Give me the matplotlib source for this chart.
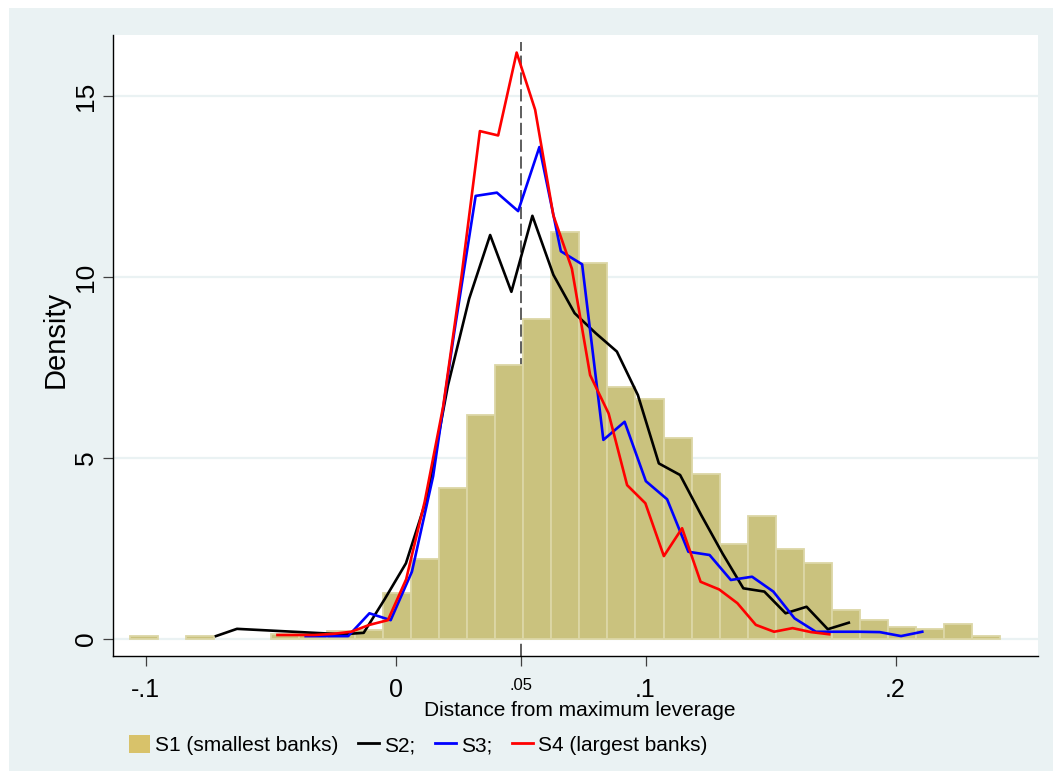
import matplotlib
matplotlib.use("Agg")
import matplotlib.pyplot as plt
from matplotlib.patches import Rectangle, Patch
from matplotlib.lines import Line2D

plt.rcParams['font.family'] = ['Liberation Sans', 'DejaVu Sans']

# S1 histogram: bin edges and density per bin
s1_edges = [-0.10624, -0.09501, -0.08378, -0.07254, -0.06131, -0.05008, -0.03885,
            -0.02762, -0.01638, -0.00515, 0.00608, 0.01731, 0.02854, 0.03978,
            0.05101, 0.06224, 0.07347, 0.08470, 0.09594, 0.10717, 0.11840,
            0.12963, 0.14086, 0.15210, 0.16333, 0.17456, 0.18579, 0.19702,
            0.20826, 0.21949, 0.23072, 0.24195]
s1_density = [0.08, 0, 0.08, 0, 0, 0.14, 0.14, 0.22, 0.26, 1.26, 2.21, 4.18, 6.2,
              7.57, 8.83, 11.23, 10.40, 6.95, 6.63, 5.54, 4.56, 2.62, 3.40, 2.48,
              2.09, 0.80, 0.52, 0.33, 0.28, 0.41, 0.08]

# S2 (black)
s2_x = [-0.0719, -0.0635, -0.0550, -0.0466, -0.0381, -0.0297, -0.0213, -0.0128,
        -0.0044, 0.0041, 0.0125, 0.0209, 0.0294, 0.0378, 0.0463, 0.0547, 0.0631,
        0.0716, 0.0800, 0.0885, 0.0969, 0.1053, 0.1138, 0.1222, 0.1307, 0.1391,
        0.1475, 0.1560, 0.1644, 0.1729, 0.1813]
s2_y = [0.08, 0.28, 0.25, 0.22, 0.19, 0.16, 0.13, 0.17, 1.1, 2.09, 3.9, 7.0, 9.4,
        11.16, 9.59, 11.69, 10.06, 9.0, 8.45, 7.94, 6.74, 4.85, 4.53, 3.43, 2.37,
        1.40, 1.31, 0.71, 0.89, 0.27, 0.45]

# S3 (blue)
s3_x = [-0.0360, -0.0275, -0.0190, -0.0105, -0.0020, 0.0065, 0.0150, 0.0235,
        0.0320, 0.0405, 0.0490, 0.0575, 0.0661, 0.0746, 0.0831, 0.0916, 0.1001,
        0.1086, 0.1171, 0.1256, 0.1341, 0.1426, 0.1511, 0.1596, 0.1681, 0.1766,
        0.1852, 0.1937, 0.2022, 0.2107]
s3_y = [0.08, 0.08, 0.08, 0.71, 0.52, 1.86, 4.5, 8.5, 12.24, 12.33, 11.82, 13.59,
        10.71, 10.35, 5.50, 6.0, 4.36, 3.86, 2.41, 2.32, 1.63, 1.72, 1.31, 0.57,
        0.2, 0.2, 0.2, 0.19, 0.08, 0.2]

# S4 (red)
s4_x = [-0.0473, -0.0399, -0.0325, -0.0252, -0.0178, -0.0105, -0.0031, 0.0042,
        0.0116, 0.0190, 0.0263, 0.0337, 0.0410, 0.0484, 0.0558, 0.0631, 0.0705,
        0.0778, 0.0852, 0.0926, 0.0999, 0.1073, 0.1146, 0.1220, 0.1294, 0.1367,
        0.1441, 0.1514, 0.1588, 0.1662, 0.1735]
s4_y = [0.11, 0.11, 0.11, 0.14, 0.2, 0.39, 0.52, 1.65, 3.79, 6.42, 10.0, 14.03,
        13.91, 16.2, 14.62, 11.7, 10.23, 7.29, 6.23, 4.25, 3.75, 2.29, 3.06, 1.58,
        1.37, 0.99, 0.39, 0.2, 0.3, 0.19, 0.13]

x_ticks = [-0.1, 0, 0.05, 0.1, 0.2]
x_tick_labels = ['-.1', '0', '.05', '.1', '.2']
y_ticks = [0, 5, 10, 15]
max_leverage = 0.05

bg = '#eaf2f3'
bar_fill = '#cac27e'
bar_edge = '#dcd7a6'

fig = plt.figure(figsize=(10.53, 7.71), dpi=100, facecolor='white')
fig.patches.append(Rectangle((9 / 1053, 0), 1, 763 / 771, transform=fig.transFigure,
                             facecolor=bg, edgecolor='none', zorder=-10))

ax = fig.add_axes([113 / 1053, 1 - 656 / 771, (1038 - 113) / 1053, (656 - 35) / 771])
ax.set_facecolor('white')
ax.set_xlim(-0.1131, 0.2570)
ax.set_ylim(-0.47, 16.685)

for y in y_ticks:
    ax.axhline(y, color=bg, lw=1.6, zorder=0)

# dashed reference line at the maximum leverage point
ax.axvline(max_leverage, ymin=0, ymax=(16.5 + 0.47) / (16.685 + 0.47),
           color='#333333', lw=1.1, linestyle=(0, (8, 3)), zorder=1)

lefts = [e for e, h in zip(s1_edges[:-1], s1_density) if h > 0]
widths = [s1_edges[i + 1] - s1_edges[i] for i, h in enumerate(s1_density) if h > 0]
heights = [h for h in s1_density if h > 0]
ax.bar(lefts, heights, width=widths, align='edge', color=bar_fill,
       edgecolor=bar_edge, linewidth=1.3, zorder=2)

ax.plot(s2_x, s2_y, color='black', lw=1.9, zorder=3)
ax.plot(s3_x, s3_y, color='#0000ff', lw=1.9, zorder=4)
ax.plot(s4_x, s4_y, color='#ff0000', lw=1.9, zorder=5)

for side in ['top', 'right']:
    ax.spines[side].set_visible(False)
for side in ['left', 'bottom']:
    ax.spines[side].set_color('black')
    ax.spines[side].set_linewidth(1.0)

ax.set_xticks(x_ticks)
ax.set_xticklabels(x_tick_labels)
ax.set_yticks(y_ticks)
ax.tick_params(axis='x', length=7.5, width=0.9, color='#404040', pad=8, labelsize=18)
ax.tick_params(axis='y', length=7.5, width=0.9, color='#404040', pad=3, labelsize=19,
               labelrotation=90)
for lab in ax.get_yticklabels():
    lab.set_va('center')
ax.get_xticklabels()[2].set_fontsize(12)

fig.text(580 / 1053, 1 - 711 / 771, 'Distance from maximum leverage', ha='center',
         va='center', fontsize=15)
fig.text(56 / 1053, 1 - 339 / 771, 'Density', ha='center', va='center', fontsize=21,
         rotation=90)

handles = [Patch(facecolor='#d8c26a', edgecolor='none'),
           Line2D([], [], color='black', lw=2),
           Line2D([], [], color='#0000ff', lw=2),
           Line2D([], [], color='#ff0000', lw=2)]
labels = ['S1 (smallest banks)', 'S2;', 'S3;', 'S4 (largest banks)']
fig.legend(handles, labels, loc='center left', bbox_to_anchor=(129 / 1053, 1 - 745 / 771),
           ncol=4, frameon=False, fontsize=15, handlelength=1.0, handleheight=1.0,
           handletextpad=0.25, columnspacing=0.95, borderpad=0, borderaxespad=0)

fig.savefig('out.png', dpi=100, facecolor='white')
